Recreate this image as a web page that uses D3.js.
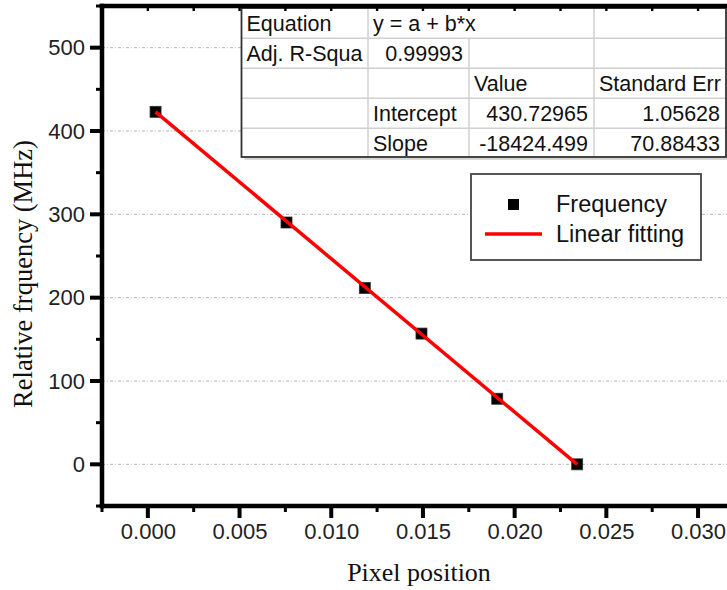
<!DOCTYPE html>
<html>
<head>
<meta charset="utf-8">
<script src="https://cdn.jsdelivr.net/npm/d3@7"></script>
<style>
body { margin: 0; background: #fff; }
svg { display: block; }
</style>
</head>
<body>
<script>
// measured points
const pixelPos = [0.00042, 0.00756, 0.01183, 0.01492, 0.01905, 0.02341];
const frequency = [423.0, 290.2, 211.6, 156.9, 78.7, 0.0];
// fitted line end points
const fitX = [0.00042, 0.02341];
const fitY = [423.0, 0.0];

const xTicks = [0, 0.005, 0.010, 0.015, 0.020, 0.025, 0.030];
const yTicks = [0, 100, 200, 300, 400, 500];
const xMinor = [-0.0025, 0.0025, 0.0075, 0.0125, 0.0175, 0.0225, 0.0275, 0.0325];
const yMinor = [-50, 50, 150, 250, 350, 450, 550];

const tableRows = [
    ["Equation", "y = a + b*x", "", ""],
    ["Adj. R-Squa", "0.99993", "", ""],
    ["", "", "Value", "Standard Err"],
    ["", "Intercept", "430.72965", "1.05628"],
    ["", "Slope", "-18424.499", "70.88433"]
];
const legendLabels = ["Frequency", "Linear fitting"];

const W = 727, H = 590;
const plot = {left: 102, top: 6, right: 743.9, bottom: 506};
const lw = 4.5; // frame thickness

const svg = d3.select("body").append("svg")
    .attr("width", W)
    .attr("height", H);

let xScale = d3.scaleLinear()
    .domain([-0.0025, 0.0325])
    .range([plot.left, plot.right]);

let yScale = d3.scaleLinear()
    .domain([-50, 550])
    .range([plot.bottom, plot.top]);

const sans = "'Liberation Sans', Arial, sans-serif";
const serif = "'Liberation Serif', 'Times New Roman', serif";

// grid lines
svg.append("g")
    .selectAll("line")
    .data(yTicks)
    .enter()
    .append("line")
    .attr("x1", plot.left)
    .attr("x2", W)
    .attr("y1", d => yScale(d))
    .attr("y2", d => yScale(d))
    .attr("stroke", "#b4b4b4")
    .attr("stroke-width", 1)
    .attr("stroke-dasharray", "3,2,1,2");

let valueline = d3.line()
    .x(d => xScale(d[0]))
    .y(d => yScale(d[1]));

// points
svg.append("g")
    .selectAll("rect")
    .data(pixelPos.map((x, i) => [x, frequency[i]]))
    .enter()
    .append("rect")
    .attr("x", d => xScale(d[0]) - 5.5)
    .attr("y", d => yScale(d[1]) - 5.5)
    .attr("width", 11)
    .attr("height", 11)
    .attr("fill", "#000")
    .attr("stroke", "#333")
    .attr("stroke-width", 0.8);

// fit line on top of the squares
svg.append("path")
    .datum(fitX.map((x, i) => [x, fitY[i]]))
    .attr("d", valueline)
    .attr("fill", "none")
    .attr("stroke", "#ff0000")
    .attr("stroke-width", 3.5);

// axes: d3 gives the labels, ticks are drawn below as filled rects
const xAxis = svg.append("g")
    .attr("transform", "translate(0," + plot.bottom + ")")
    .call(d3.axisBottom(xScale)
        .tickValues(xTicks)
        .tickFormat(d3.format(".3f"))
        .tickSize(12)
        .tickPadding(5));
xAxis.select(".domain").remove();
xAxis.selectAll(".tick line").remove();
xAxis.selectAll("text")
    .attr("font-family", sans)
    .attr("font-size", 22)
    .attr("fill", "#222");

const yAxis = svg.append("g")
    .attr("transform", "translate(" + plot.left + ",0)")
    .call(d3.axisLeft(yScale)
        .tickValues(yTicks)
        .tickSize(12)
        .tickPadding(5));
yAxis.select(".domain").remove();
yAxis.selectAll(".tick line").remove();
yAxis.selectAll("text")
    .attr("font-family", sans)
    .attr("font-size", 22)
    .attr("fill", "#222");

const frame = svg.append("g").attr("fill", "#000");

// bottom ticks, outward
frame.selectAll(".xmaj").data(xTicks).enter().append("rect")
    .attr("x", d => xScale(d) - 2).attr("y", plot.bottom)
    .attr("width", 4).attr("height", 12);
frame.selectAll(".xmin").data(xMinor).enter().append("rect")
    .attr("x", d => xScale(d) - 1.5).attr("y", plot.bottom)
    .attr("width", 3).attr("height", 6);

// left ticks
frame.selectAll(".ymaj").data(yTicks).enter().append("rect")
    .attr("x", plot.left - 12).attr("y", d => yScale(d) - 2)
    .attr("width", 12).attr("height", 4);
frame.selectAll(".ymin").data(yMinor).enter().append("rect")
    .attr("x", plot.left - 6).attr("y", d => yScale(d) - 1.5)
    .attr("width", 6).attr("height", 3);

// top ticks, inward
frame.selectAll(".xtop").data(xTicks.concat(xMinor)).enter().append("rect")
    .attr("x", d => xScale(d) - 1.2).attr("y", plot.top)
    .attr("width", 2.4).attr("height", 5);

// table
const colX = [241.5, 368, 469, 594, 726];
const rowY = [8, 38.3, 68.3, 98.3, 128.3, 157];
const table = svg.append("g");

table.append("rect")
    .attr("x", colX[0] + 3).attr("y", rowY[0] + 3)
    .attr("width", colX[4] - colX[0]).attr("height", rowY[5] - rowY[0])
    .attr("fill", "#d8d8d0");
table.append("rect")
    .attr("x", colX[0]).attr("y", rowY[0])
    .attr("width", colX[4] - colX[0]).attr("height", rowY[5] - rowY[0])
    .attr("fill", "#fff");

// horizontal cell lines
table.selectAll(".hline")
    .data(rowY.slice(1, 5))
    .enter()
    .append("line")
    .attr("x1", colX[0]).attr("x2", colX[4])
    .attr("y1", d => d).attr("y2", d => d)
    .attr("stroke", "#d0d0d0").attr("stroke-width", 1.5);

// vertical cell lines, row 0 has merged columns 1-2
tableRows.forEach((row, r) => {
    [1, 2, 3].forEach(c => {
        if (r === 0 && c === 2) return;
        table.append("line")
            .attr("x1", colX[c]).attr("x2", colX[c])
            .attr("y1", rowY[r]).attr("y2", rowY[r + 1])
            .attr("stroke", "#d0d0d0").attr("stroke-width", 1.5);
    });
});

table.append("rect")
    .attr("x", colX[0]).attr("y", rowY[0])
    .attr("width", colX[4] - colX[0]).attr("height", rowY[5] - rowY[0])
    .attr("fill", "none")
    .attr("stroke", "#333").attr("stroke-width", 1.8);

const isNum = s => /^-?[0-9.]+$/.test(s);
tableRows.forEach((row, r) => {
    row.forEach((cell, c) => {
        if (!cell) return;
        const num = isNum(cell);
        table.append("text")
            .attr("x", num ? colX[c + 1] - 6 : colX[c] + 5)
            .attr("y", rowY[r] + 23)
            .attr("text-anchor", num ? "end" : "start")
            .attr("font-family", sans)
            .attr("font-size", 21.5)
            .attr("fill", "#111")
            .text(cell);
    });
});

// legend
const legend = svg.append("g");
legend.append("rect")
    .attr("x", 471).attr("y", 174)
    .attr("width", 230).attr("height", 86)
    .attr("fill", "#fff")
    .attr("stroke", "#444").attr("stroke-width", 1.8);
legend.append("rect")
    .attr("x", 508).attr("y", 199)
    .attr("width", 11).attr("height", 11)
    .attr("fill", "#000");
legend.append("line")
    .attr("x1", 485).attr("x2", 542)
    .attr("y1", 234).attr("y2", 234)
    .attr("stroke", "#ff0000").attr("stroke-width", 3.5);
legend.selectAll("text")
    .data(legendLabels)
    .enter()
    .append("text")
    .attr("x", 556)
    .attr("y", (d, i) => 212 + i * 30)
    .attr("font-family", sans)
    .attr("font-size", 23.5)
    .attr("fill", "#111")
    .text(d => d);

// frame as filled rects: top, bottom, left
frame.append("rect")
    .attr("x", plot.left - lw / 2).attr("y", plot.top - lw / 2)
    .attr("width", W - plot.left + lw).attr("height", lw);
frame.append("rect")
    .attr("x", plot.left - lw / 2).attr("y", plot.bottom - lw / 2)
    .attr("width", W - plot.left + lw).attr("height", lw);
frame.append("rect")
    .attr("x", plot.left - lw / 2).attr("y", plot.top - lw / 2)
    .attr("width", lw).attr("height", plot.bottom - plot.top + lw);
frame.raise();

// axis titles
svg.append("text")
    .attr("x", 419).attr("y", 581)
    .attr("text-anchor", "middle")
    .attr("font-family", serif)
    .attr("font-size", 26)
    .attr("fill", "#111")
    .text("Pixel position");

svg.append("text")
    .attr("transform", "translate(32,274) rotate(-90)")
    .attr("text-anchor", "middle")
    .attr("font-family", serif)
    .attr("font-size", 26.5)
    .attr("fill", "#111")
    .text("Relative frquency (MHz)");
</script>
</body>
</html>
